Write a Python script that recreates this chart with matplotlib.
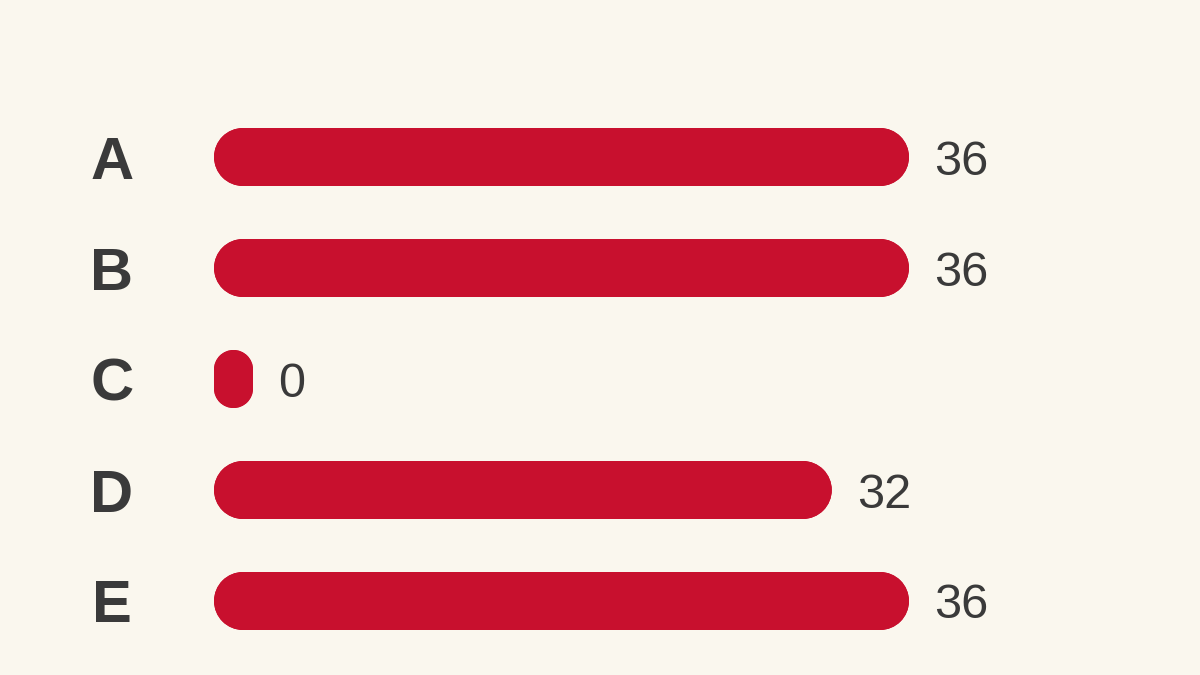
import matplotlib.pyplot as plt
from matplotlib.patches import Rectangle, Circle

categories = ['A', 'B', 'C', 'D', 'E']
values = [36, 36, 0, 32, 36]

bg = '#faf7ee'
red = '#c8102e'
txt = '#3a3a3a'

plt.rcParams['font.family'] = ['Liberation Sans', 'DejaVu Sans']

# pixel layout -> data units (x in value units, y scaled the same so caps stay round)
W, H = 1200, 675
k = 695 / 36          # pixels per value unit
x0_px = 214
row0_px, row_gap_px = 157, 111
bar_h = 58 / k
min_w = 39 / k
step = row_gap_px / k


def pill(ax, x, y, w, h, color):
    # rounded rectangle: two rects + four corner circles
    r = min(w, h) / 2
    ax.add_patch(Rectangle((x + r, y - h / 2), w - 2 * r, h, fc=color, ec='none'))
    ax.add_patch(Rectangle((x, y - h / 2 + r), w, h - 2 * r, fc=color, ec='none'))
    for cx in (x + r, x + w - r):
        for cy in (y - h / 2 + r, y + h / 2 - r):
            ax.add_patch(Circle((cx, cy), r, fc=color, ec='none'))


fig = plt.figure(figsize=(12, 6.75), dpi=100)
fig.patch.set_facecolor(bg)
ax = fig.add_axes([0, 0, 1, 1])
ax.set_facecolor(bg)
ax.set_xlim(-x0_px / k, (W - x0_px) / k)
ax.set_ylim((H - row0_px) / k, -row0_px / k)
ax.axis('off')

for i, (cat, v) in enumerate(zip(categories, values)):
    y = i * step
    w = max(v, min_w)
    pill(ax, 0, y, w, bar_h, red)
    ax.text(w + 25 / k, y, str(v), ha='left', va='center_baseline',
            fontsize=35, color=txt)
    ax.text(-102 / k, y, cat, ha='center', va='center_baseline',
            fontsize=43, fontweight='bold', color=txt)

fig.savefig('out.png', dpi=100, facecolor=bg)
